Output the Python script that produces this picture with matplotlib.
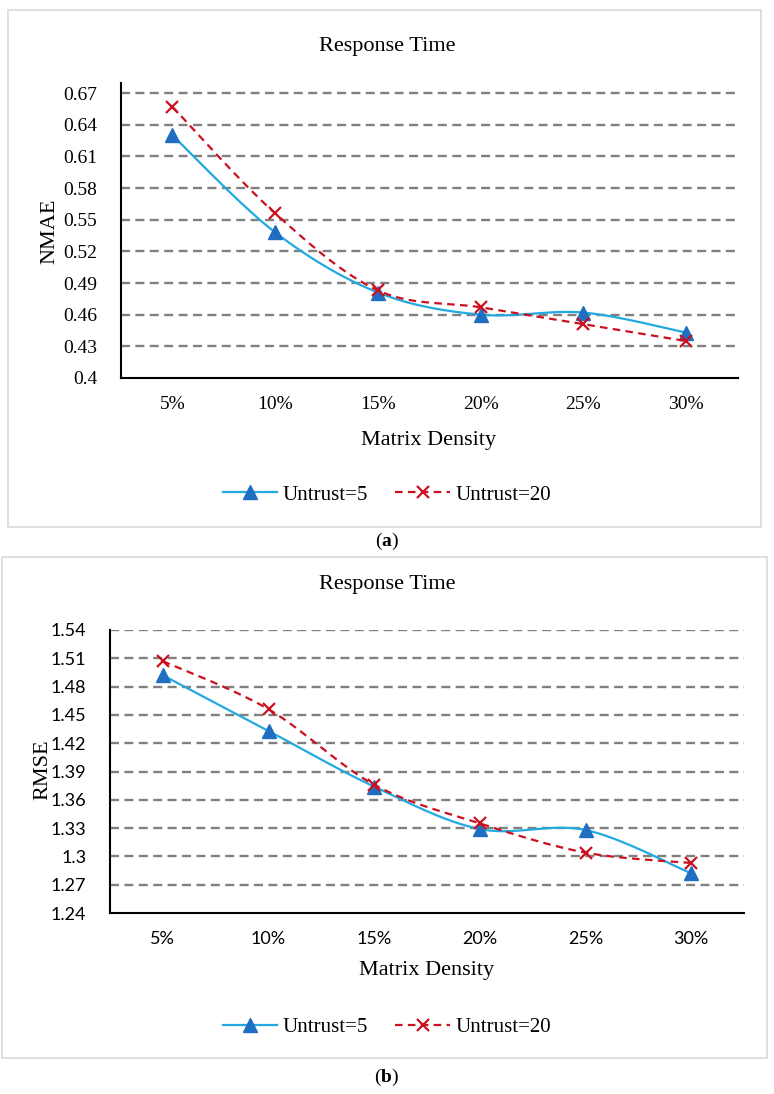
import numpy as np
import matplotlib
matplotlib.use("Agg")
import matplotlib.pyplot as plt
from matplotlib.lines import Line2D
from matplotlib.patches import Rectangle

# data
densities = ["5%", "10%", "15%", "20%", "25%", "30%"]
nmae_u5 = [0.630, 0.538, 0.481, 0.460, 0.462, 0.443]
nmae_u20 = [0.657, 0.556, 0.483, 0.467, 0.451, 0.435]
rmse_u5 = [1.492, 1.433, 1.374, 1.329, 1.328, 1.282]
rmse_u20 = [1.507, 1.456, 1.376, 1.335, 1.304, 1.293]
nmae_ticks = [0.4, 0.43, 0.46, 0.49, 0.52, 0.55, 0.58, 0.61, 0.64, 0.67]
rmse_ticks = [1.24, 1.27, 1.3, 1.33, 1.36, 1.39, 1.42, 1.45, 1.48, 1.51, 1.54]

SERIF = "Liberation Serif"
BLUE_LINE = "#22A9E1"
BLUE_MARK = "#1F6EC2"
RED = "#CC1020"
GRID = "#808080"

plt.rcParams["mathtext.fontset"] = "custom"
plt.rcParams["mathtext.rm"] = SERIF
plt.rcParams["mathtext.bf"] = SERIF + ":bold"


def smooth(x, y, n=30):
    # Excel-style smoothed line: cubic Bezier through the points
    pts = np.column_stack([x, y]).astype(float)
    ext = np.vstack([pts[0], pts, pts[-1]])
    t = np.linspace(0, 1, n)[:, None]
    out = []
    for i in range(len(pts) - 1):
        p0, p1, p2, p3 = ext[i], ext[i + 1], ext[i + 2], ext[i + 3]
        c1 = p1 + (p2 - p0) / 6
        c2 = p2 - (p3 - p1) / 6
        seg = (1 - t) ** 3 * p1 + 3 * (1 - t) ** 2 * t * c1 + 3 * (1 - t) * t ** 2 * c2 + t ** 3 * p2
        out.append(seg if i == 0 else seg[1:])
    seg = np.vstack(out)
    return seg[:, 0], seg[:, 1]


def draw_panel(ax, y5, y20, ticks, ymax, tick_font, tick_size):
    x = np.arange(len(densities))
    for v in ticks[1:]:
        ax.axhline(v, color=GRID, lw=1.7, ls=(0, (3.8, 2.3)), zorder=1)
    sx, sy = smooth(x, y5)
    ax.plot(sx, sy, color=BLUE_LINE, lw=1.6, zorder=3)
    ax.plot(x, y5, ls="none", marker="^", ms=9.5, color=BLUE_MARK, zorder=4)
    sx, sy = smooth(x, y20)
    ax.plot(sx, sy, color=RED, lw=1.6, ls=(0, (3.4, 2.4)), zorder=5)
    ax.plot(x, y20, ls="none", marker="x", ms=9, mew=1.6, color=RED, zorder=6)

    ax.set_xlim(-0.5, len(densities) - 0.5)
    ax.set_ylim(ticks[0], ymax)
    ax.set_xticks(x)
    ax.set_xticklabels(densities, fontsize=tick_size, family=tick_font)
    ax.set_yticks(ticks)
    ax.set_yticklabels([f"{v:g}" for v in ticks], fontsize=tick_size, family=tick_font)
    ax.tick_params(length=0)
    ax.tick_params(axis="y", pad=17)
    ax.tick_params(axis="x", pad=13)
    for s in ["top", "right"]:
        ax.spines[s].set_visible(False)
    for s in ["left", "bottom"]:
        ax.spines[s].set_linewidth(1.5)
        ax.spines[s].set_color("black")


fig = plt.figure(figsize=(7.74, 10.94), dpi=100)
W, H = 774, 1094


def fx(px):
    return px / W


def fy(py):
    return 1 - py / H


# panel frames
for (x0, y0, x1, y1) in [(8, 10, 761, 527), (2, 557, 767, 1058)]:
    fig.patches.append(Rectangle((fx(x0), fy(y1)), fx(x1 - x0), (y1 - y0) / H,
                                 transform=fig.transFigure, fill=False,
                                 edgecolor="#D9D9D9", lw=1.2))

ax1 = fig.add_axes([fx(121), fy(378), fx(737.5 - 121), (378 - 83) / H])
draw_panel(ax1, nmae_u5, nmae_u20, nmae_ticks, 0.6795, SERIF, 14)

ax2 = fig.add_axes([fx(110), fy(913), fx(744 - 110), (913 - 630) / H])
draw_panel(ax2, rmse_u5, rmse_u20, rmse_ticks, 1.54, "Lato", 13)

# titles, axis labels, captions
fig.text(fx(50), fy(231), "NMAE", family=SERIF, fontsize=16, rotation=90,
         ha="center", va="center")
fig.text(fx(43), fy(770), "RMSE", family=SERIF, fontsize=16, rotation=90,
         ha="center", va="center")
for ytitle, yxl, cx in [(46, 440, 429), (585, 971, 427)]:
    fig.text(0.5, fy(ytitle), "Response Time", family=SERIF, fontsize=16,
             ha="center", va="center")
    fig.text(fx(cx), fy(yxl), "Matrix Density", family=SERIF, fontsize=16,
             ha="center", va="center")
fig.text(0.5, fy(541), r"($\mathbf{a}$)", family=SERIF, fontsize=14, ha="center", va="center")
fig.text(0.5, fy(1077), r"($\mathbf{b}$)", family=SERIF, fontsize=14, ha="center", va="center")

handles = [
    Line2D([], [], color=BLUE_LINE, lw=1.6, marker="^", ms=9.5,
           markerfacecolor=BLUE_MARK, markeredgecolor=BLUE_MARK),
    Line2D([], [], color=RED, lw=1.6, ls=(0, (3.4, 2.4)), marker="x", ms=9, mew=1.6),
]
labels = ["Untrust=5", "Untrust=20"]
for yl in [495, 1027]:
    fig.legend(handles, labels, loc="center", bbox_to_anchor=(0.5, fy(yl)),
               ncol=2, frameon=False, prop={"family": SERIF, "size": 15},
               handlelength=2.6, handletextpad=0.3, columnspacing=1.3)

fig.savefig("out.png", dpi=100)
